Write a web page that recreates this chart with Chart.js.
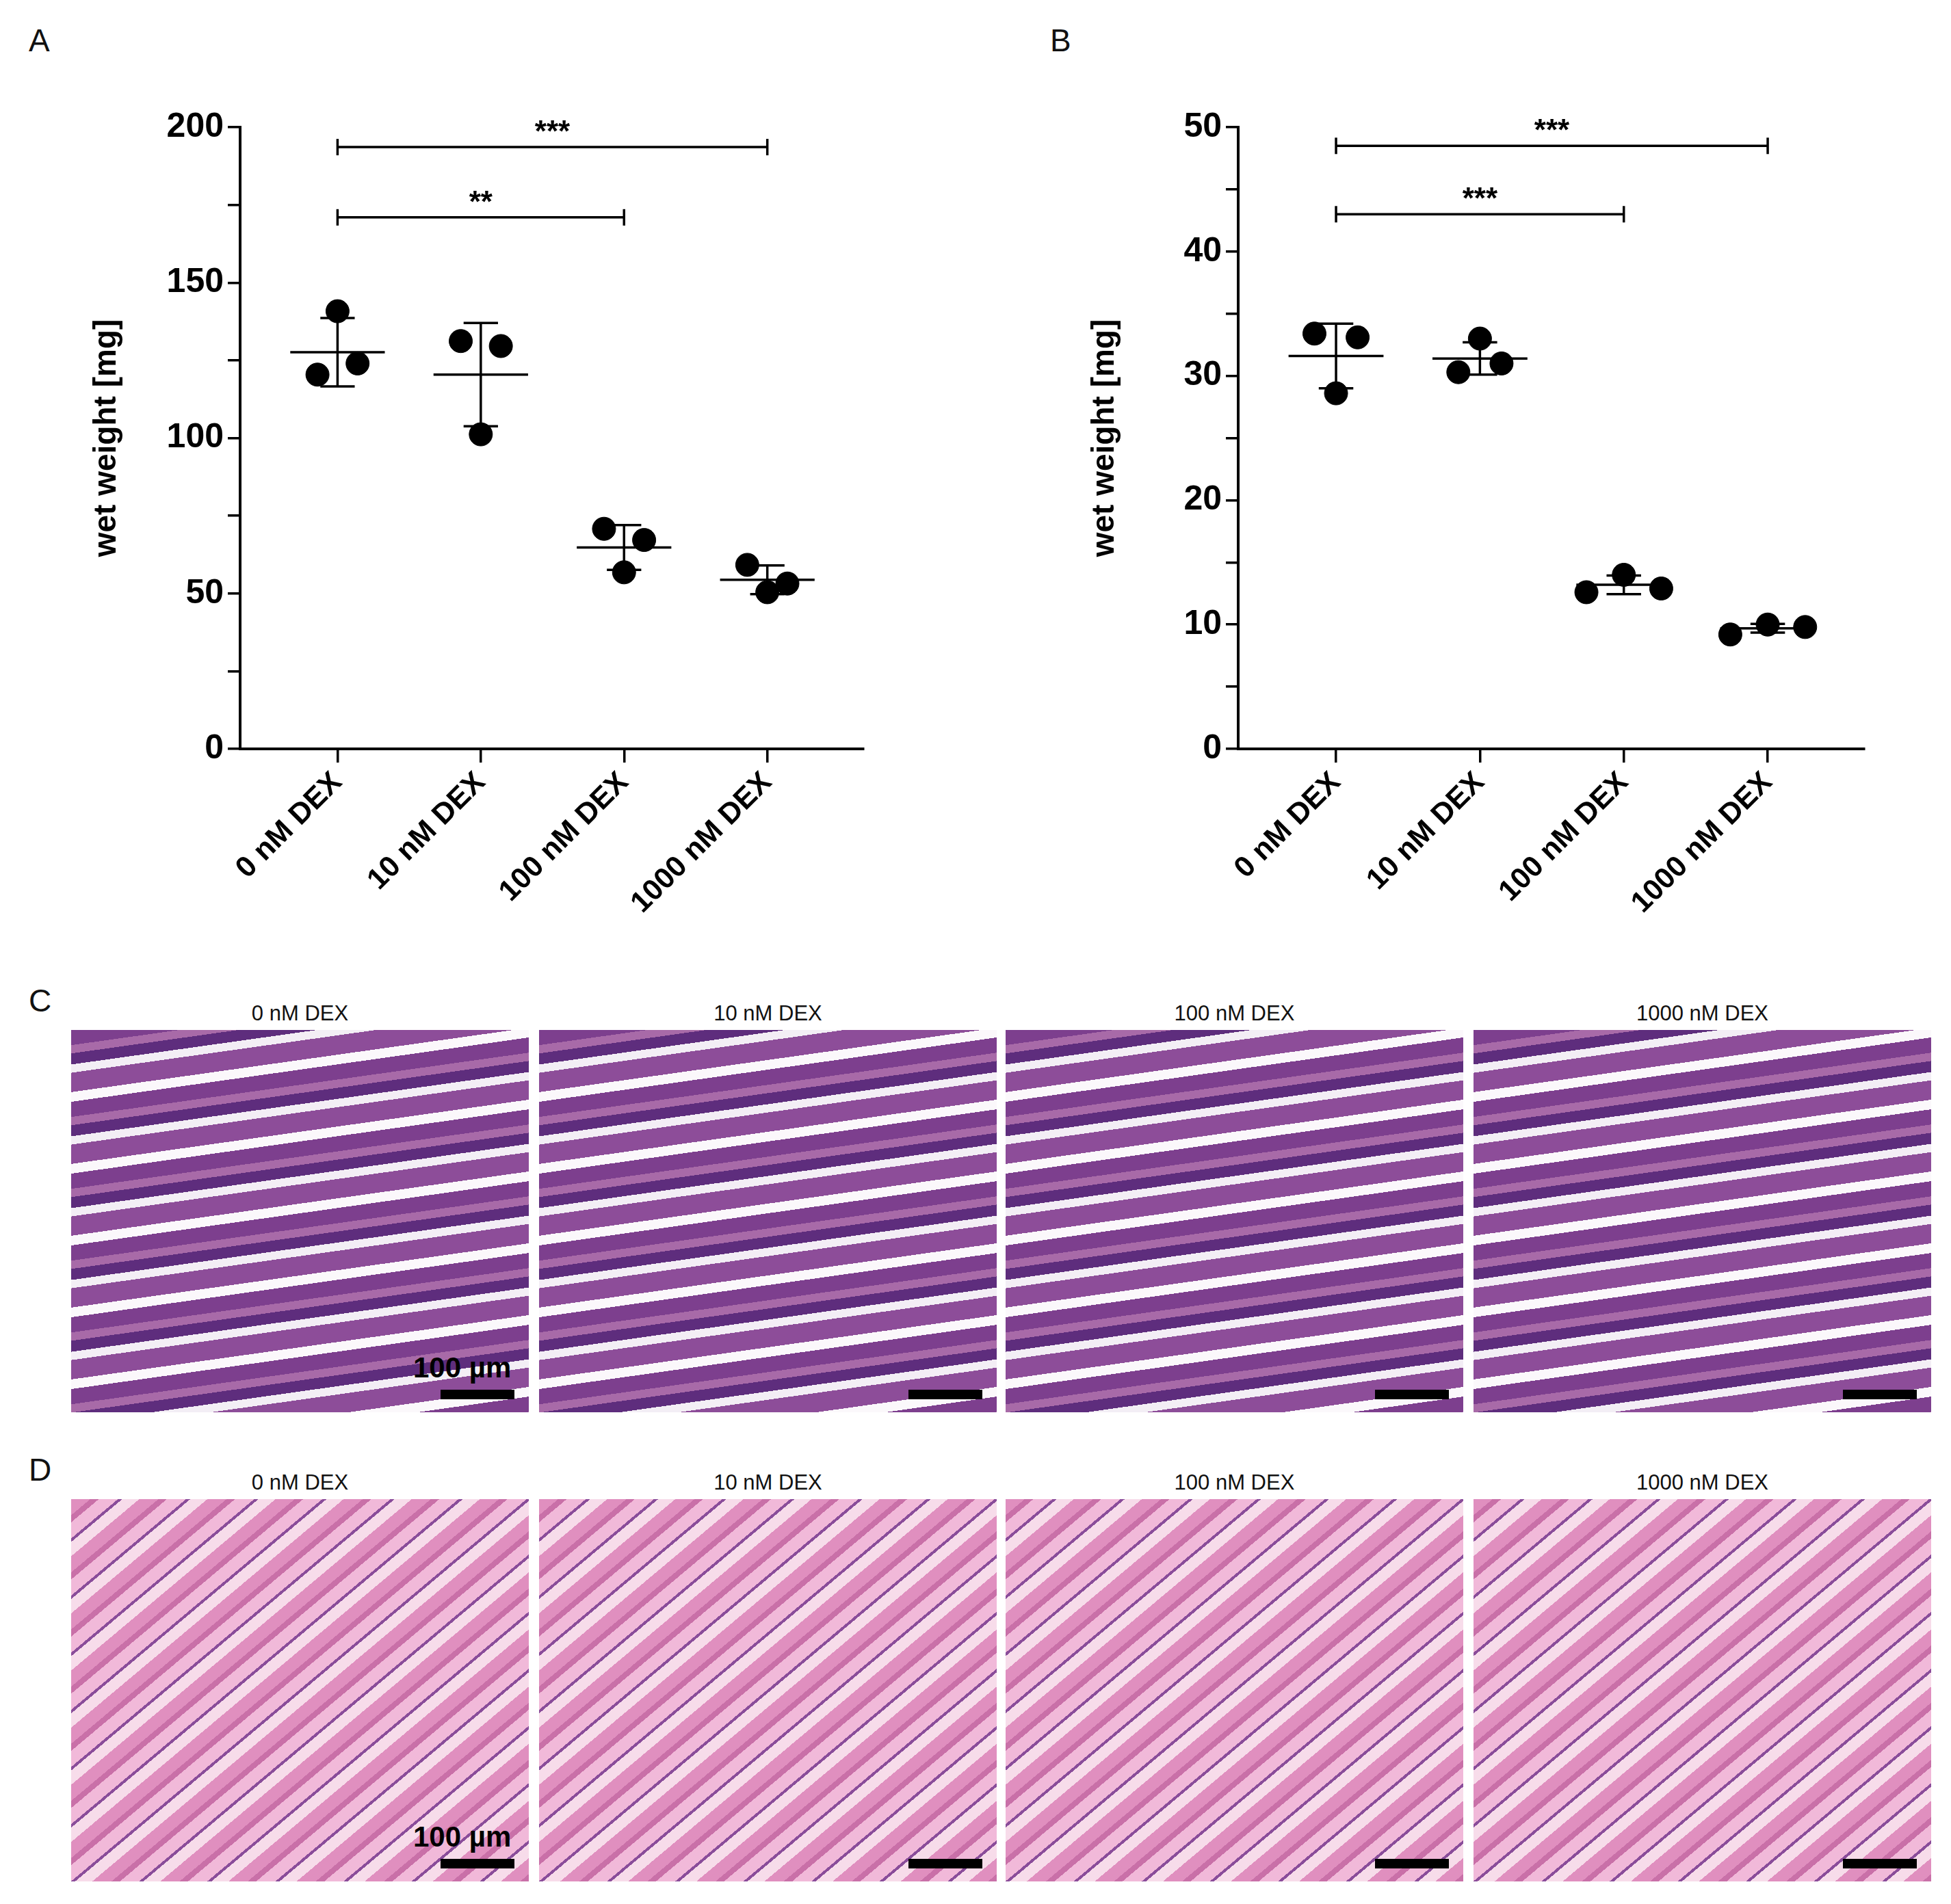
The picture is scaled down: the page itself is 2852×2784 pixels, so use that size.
<!DOCTYPE html>
<html><head><meta charset="utf-8">
<script src="https://cdn.jsdelivr.net/npm/chart.js@4"></script>
<style>
body{margin:0;width:2852px;height:2784px;background:#fff;position:relative;font-family:"Liberation Sans",Arial,sans-serif;overflow:hidden}
.c{position:absolute}
.let{position:absolute;font-size:46px;color:#111}
.lab{position:absolute;font-size:31px;text-align:center;width:669px;color:#111}
.img{position:absolute;width:669px;height:559px}
.pc{background:repeating-linear-gradient(172deg,#7d3f8e 0 22px,#a86aa8 22px 34px,#5e2d7d 34px 50px,#f3eef5 50px 62px,#8d4d99 62px 90px,#fbf8fb 90px 104px)}
.pd{background:repeating-linear-gradient(140deg,#e08fbf 0 18px,#c970a8 18px 26px,#f1b9d9 26px 44px,#8a4d9a 44px 48px,#f7dcea 48px 64px)}
.sb{position:absolute;width:108px;height:14px;background:#000}
.um{position:absolute;font-size:42px;font-weight:bold;color:#000}
</style></head><body>
<div class="let" style="left:42px;top:32px">A</div>
<div class="let" style="left:1535px;top:32px">B</div>
<div class="let" style="left:42px;top:1436px">C</div>
<div class="let" style="left:42px;top:2122px">D</div>
<canvas id="ca" class="c" style="left:0;top:100px;width:1300px;height:1300px" width="1300" height="1300"></canvas>
<canvas id="cb" class="c" style="left:1459px;top:100px;width:1300px;height:1300px" width="1300" height="1300"></canvas>
<div id="hist"></div>
<script>
const categories=['0 nM DEX','10 nM DEX','100 nM DEX','1000 nM DEX'];
// Panel A: wet weight [mg]
const aPoints=[[140.8,120.4,124],[131.2,129.6,101.2],[70.8,67.2,56.8],[59.2,50.4,53.2]];
const aJitter=[[0,-0.14,0.14],[-0.14,0.14,0],[-0.14,0.14,0],[-0.14,0,0.14]];
const aMean=[127.6,120.4,64.8,54.4];
const aSD=[11,16.6,7.2,4.6];
const aSig=[[0,3,193.6,'***'],[0,2,171,'**']];
const aTicks=[0,50,100,150,200];
// Panel B
const bPoints=[[33.4,33.1,28.6],[33,30.3,31],[14,12.6,12.9],[10,9.2,9.8]];
const bJitter=[[-0.15,0.15,0],[0,-0.15,0.15],[0,-0.26,0.26],[0,-0.26,0.26]];
const bMean=[31.6,31.4,13.2,9.7];
const bSD=[2.6,1.3,0.75,0.35];
const bSig=[[0,3,48.5,'***'],[0,2,43,'***']];
const bTicks=[0,10,20,30,40,50];

const F='"Liberation Sans", Arial, sans-serif';
const over={id:'over',afterDatasetsDraw(ch){
  const o=ch.options.plugins.over, x=ch.scales.x, y=ch.scales.y, c=ch.ctx;
  c.save();c.strokeStyle='#000';c.lineWidth=3.5;
  const L=(x1,y1,x2,y2)=>{c.beginPath();c.moveTo(x1,y1);c.lineTo(x2,y2);c.stroke();};
  o.mean.forEach((m,i)=>{
    const px=x.getPixelForValue(i), hw=x.getPixelForValue(i+0.33)-px, cw=x.getPixelForValue(i+0.12)-px;
    const ym=y.getPixelForValue(m), yt=y.getPixelForValue(m+o.sd[i]), yb=y.getPixelForValue(m-o.sd[i]);
    L(px-hw,ym,px+hw,ym);L(px,yt,px,yb);L(px-cw,yt,px+cw,yt);L(px-cw,yb,px+cw,yb);
  });
  c.fillStyle='#000';c.font='bold 44px '+F;c.textAlign='center';
  o.sig.forEach(s=>{
    const x1=x.getPixelForValue(s[0]),x2=x.getPixelForValue(s[1]),yy=y.getPixelForValue(s[2]);
    L(x1,yy,x2,yy);L(x1,yy-12,x1,yy+12);L(x2,yy-12,x2,yy+12);
    c.fillText(s[3],(x1+x2)/2,yy-8);
  });
  c.restore();}};
function make(id,pts,jit,mean,sd,sig,ticks,max,minor,padR){
  const data=[];pts.forEach((g,i)=>g.forEach((v,j)=>data.push({x:i+jit[i][j],y:v})));
  new Chart(document.getElementById(id),{type:'scatter',
    data:{datasets:[{data,backgroundColor:'#000',borderColor:'#000',pointRadius:17,pointHoverRadius:17}]},
    plugins:[over],
    options:{responsive:false,animation:false,events:[],
      layout:{padding:{top:86,right:padR,left:125,bottom:0}},
      plugins:{legend:{display:false},tooltip:{enabled:false},over:{mean,sd,sig}},
      scales:{
        x:{type:'linear',min:-0.68,max:3.67,
          afterBuildTicks:s=>{s.ticks=categories.map((_,i)=>({value:i}));},
          afterFit:s=>{s.height=305;},
          grid:{drawOnChartArea:false,color:'#000',lineWidth:3.5,tickLength:20},
          border:{color:'#000',width:4},
          ticks:{color:'#000',font:{family:F,size:43,weight:'bold'},minRotation:45,maxRotation:45,padding:4,callback:v=>categories[v]}},
        y:{min:0,max:max,
          afterBuildTicks:s=>{const t=[];for(let v=0;v<=max+1e-9;v+=minor)t.push({value:v});s.ticks=t;},
          afterFit:s=>{s.width=226;},
          title:{display:true,text:'wet weight [mg]',color:'#000',font:{family:F,size:46,weight:'bold'},padding:{bottom:4}},
          grid:{drawOnChartArea:false,color:'#000',lineWidth:3.5,tickLength:18},
          border:{color:'#000',width:4},
          ticks:{color:'#000',font:{family:F,size:50,weight:'bold'},padding:6,callback:v=>ticks.includes(v)?String(v):''}}
      }}});
}
make('ca',aPoints,aJitter,aMean,aSD,aSig,aTicks,200,25,38);
make('cb',bPoints,bJitter,bMean,bSD,bSig,bTicks,50,5,34);

const xs=[104,788,1470,2154];
let h='';
[[1506,1464,'pc'],[2192,2150,'pd']].forEach(([top,lt,cls])=>{
  xs.forEach((x,i)=>{
    h+=`<div class="lab" style="left:${x}px;top:${lt}px">${categories[i]}</div>`;
    h+=`<div class="img ${cls}" style="left:${x}px;top:${top}px"></div>`;
    h+=`<div class="sb" style="left:${x+540}px;top:${top+526}px"></div>`;
  });
  h+=`<div class="um" style="left:${xs[0]+500}px;top:${top+470}px">100 µm</div>`;
});
document.getElementById('hist').innerHTML=h;
</script></body></html>
